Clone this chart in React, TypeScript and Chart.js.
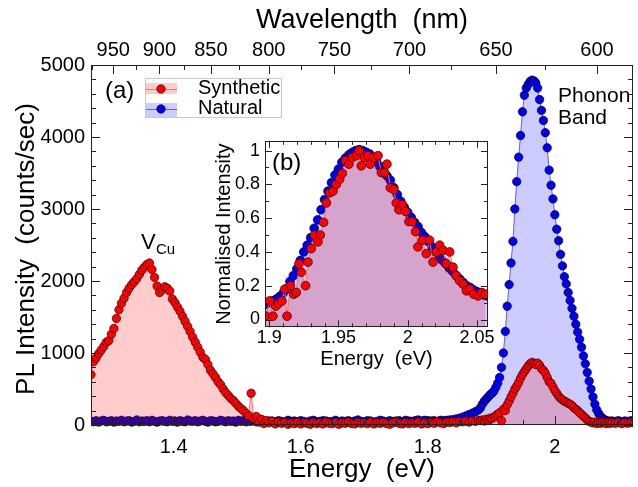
import React, { useEffect, useRef } from 'react';
import { Chart, registerables } from 'chart.js';

Chart.register(...registerables);

const FONT = '"Liberation Sans", Arial, Helvetica, sans-serif';
const HC = 1239.84; // eV*nm

// ---------------- panel (a): PL spectra ----------------
const energyEV = [
  1.270, 1.274, 1.278, 1.282, 1.286, 1.290, 1.294, 1.298, 1.302, 1.306,
  1.310, 1.314, 1.318, 1.322, 1.326, 1.330, 1.334, 1.338, 1.342, 1.346,
  1.350, 1.354, 1.358, 1.362, 1.366, 1.370, 1.374, 1.378, 1.382, 1.386,
  1.390, 1.394, 1.398, 1.402, 1.406, 1.410, 1.414, 1.418, 1.422, 1.426,
  1.430, 1.434, 1.438, 1.442, 1.446, 1.450, 1.454, 1.458, 1.462, 1.466,
  1.470, 1.474, 1.478, 1.482, 1.486, 1.490, 1.494, 1.498, 1.502, 1.506,
  1.510, 1.514, 1.518, 1.522, 1.526, 1.530, 1.534, 1.538, 1.542, 1.546,
  1.550,
  1.555, 1.560, 1.565, 1.570, 1.575, 1.580, 1.585, 1.590, 1.595, 1.600,
  1.605, 1.610, 1.615, 1.620, 1.625, 1.630, 1.635, 1.640, 1.645, 1.650,
  1.655, 1.660, 1.665, 1.670, 1.675, 1.680, 1.685, 1.690, 1.695, 1.700,
  1.705, 1.710, 1.715, 1.720, 1.725, 1.730, 1.735, 1.740, 1.745, 1.750,
  1.755, 1.760, 1.765, 1.770, 1.775, 1.780, 1.785, 1.790, 1.795, 1.800,
  1.805, 1.810, 1.815, 1.820, 1.825, 1.830, 1.835, 1.840, 1.845, 1.850,
  1.855, 1.860, 1.865, 1.870, 1.875, 1.880,
  1.883, 1.886, 1.889, 1.892, 1.895, 1.898, 1.901, 1.904, 1.907, 1.910,
  1.913, 1.916, 1.919, 1.922, 1.925, 1.928, 1.931, 1.934, 1.937, 1.940,
  1.943, 1.946, 1.949, 1.952, 1.955, 1.958, 1.961, 1.964, 1.967, 1.970,
  1.973, 1.976, 1.979, 1.982, 1.985, 1.988, 1.991, 1.994, 1.997, 2.000,
  2.003, 2.006, 2.009, 2.012, 2.015, 2.018, 2.021, 2.024, 2.027, 2.030,
  2.033, 2.036, 2.039, 2.042, 2.045, 2.048, 2.051, 2.054, 2.057, 2.060,
  2.063, 2.066, 2.069, 2.072, 2.075, 2.078, 2.081, 2.084, 2.087, 2.090,
  2.095, 2.100, 2.105, 2.110, 2.115, 2.120, 2.125,
];

const syntheticCounts = [
  700, 880, 930, 990, 1040, 1090, 1150, 1170, 1260, 1340,
  1480, 1600, 1690, 1760, 1840, 1900, 1950, 1990, 2030, 2090,
  2150, 2190, 2230, 2250, 2160, 2050, 1930, 1840, 1880, 1920,
  1900, 1860, 1750, 1700, 1640, 1580, 1510, 1440, 1370, 1300,
  1220, 1150, 1080, 1010, 940, 910, 840, 760, 710, 660,
  600, 560, 500, 450, 410, 370, 340, 300, 260, 230,
  200, 160, 130, 440, 90, 120, 40, 80, 20, 60,
  30,
  50, 15, 40, 25, 35, 10, 30, 20, 40, 15,
  30, 25, 10, 35, 20, 30, 15, 40, 25, 20,
  35, 10, 30, 25, 40, 20, 15, 35, 25, 30,
  20, 40, 15, 30, 25, 35, 20, 10, 30, 40,
  25, 15, 35, 20, 30, 25, 40, 15, 30, 20,
  35, 25, 45, 30, 20, 40, 35, 45, 30, 50,
  45, 55, 40, 60, 50, 65,
  60, 70, 55, 80, 70, 95, 90, 110, 130, 150,
  170, 60, 220, 200, 280, 330, 390, 440, 500, 540,
  590, 650, 700, 740, 780, 820, 850, 870, 860, 840,
  860, 830, 780, 760, 720, 660, 600, 580, 530, 480,
  440, 400, 370, 350, 330, 320, 300, 290, 270, 240,
  220, 200, 170, 150, 120, 100, 70, 50, 40, 30,
  40, 20, 35, 25, 40, 30, 20, 35, 25, 30,
  25, 35, 20, 30, 25, 35, 30,
];

const naturalCounts = [
  50, 45, 60, 40, 55, 65, 45, 50, 60, 40,
  55, 50, 65, 45, 55, 60, 40, 50, 70, 45,
  55, 50, 60, 45, 65, 50, 40, 55, 60, 50,
  45, 65, 50, 55, 40, 60, 50, 45, 70, 55,
  50, 60, 45, 55, 65, 50, 40, 60, 55, 45,
  50, 65, 55, 45, 60, 50, 55, 40, 65, 50,
  60, 45, 55, 50, 70, 45, 55, 60, 50, 45,
  55,
  55, 45, 60, 50, 40, 65, 50, 55, 45, 60,
  50, 40, 55, 65, 45, 50, 60, 55, 45, 50,
  65, 40, 55, 50, 60, 45, 55, 70, 50, 45,
  60, 55, 40, 50, 65, 55, 45, 60, 50, 55,
  60, 45, 65, 55, 50, 60, 70, 55, 65, 60,
  55, 60, 50, 65, 60, 65, 70, 75, 85, 95,
  110, 125, 145, 165, 185, 210,
  240, 290, 330, 360, 390, 420, 440, 470, 520, 580,
  660, 800, 1000, 1300, 1650, 1950, 2250, 2550, 3000, 3380,
  3720, 4020, 4350, 4580, 4680, 4730, 4770, 4790, 4780, 4750,
  4680, 4520, 4370, 4230, 4060, 3850, 3540, 3330, 3140, 2920,
  2720, 2560, 2370, 2210, 2060, 1960, 1840, 1730, 1620, 1510,
  1400, 1290, 1190, 1080, 960, 850, 730, 610, 500, 390,
  290, 210, 160, 120, 95, 75, 60, 55, 50, 55,
  50, 60, 45, 55, 50, 60, 50,
];

const energyTicks = [1.4, 1.6, 1.8, 2.0];
const intensityTicks = [0, 1000, 2000, 3000, 4000, 5000];
const wavelengthTicks = [950, 900, 850, 800, 750, 700, 650, 600];

// ---------------- panel (b): normalised inset ----------------
const insetNaturalE = [
  1.8975, 1.9000, 1.9025, 1.9050, 1.9075, 1.9100, 1.9125, 1.9150, 1.9175, 1.9200,
  1.9225, 1.9250, 1.9275, 1.9300, 1.9325, 1.9350, 1.9375, 1.9400, 1.9425, 1.9450,
  1.9475, 1.9500, 1.9525, 1.9550, 1.9575, 1.9600, 1.9625, 1.9650, 1.9675, 1.9700,
  1.9725, 1.9750, 1.9775, 1.9800, 1.9825, 1.9850, 1.9875, 1.9900, 1.9925, 1.9950,
  1.9975, 2.0000, 2.0025, 2.0050, 2.0075, 2.0100, 2.0125, 2.0150, 2.0175, 2.0200,
  2.0225, 2.0250, 2.0275, 2.0300, 2.0325, 2.0350, 2.0375, 2.0400, 2.0425, 2.0450,
  2.0475, 2.0500, 2.0525, 2.0550, 2.0575,
];
const insetNatural = [
  0.09, 0.10, 0.11, 0.12, 0.135, 0.155, 0.18, 0.225, 0.26, 0.30,
  0.35, 0.40, 0.44, 0.485, 0.54, 0.59, 0.65, 0.71, 0.76, 0.81,
  0.855, 0.89, 0.93, 0.955, 0.975, 0.99, 1.0, 1.005, 1.0, 0.99,
  0.98, 0.96, 0.935, 0.905, 0.88, 0.85, 0.825, 0.78, 0.74, 0.70,
  0.665, 0.635, 0.605, 0.575, 0.55, 0.515, 0.49, 0.46, 0.43, 0.40,
  0.375, 0.35, 0.33, 0.305, 0.285, 0.26, 0.24, 0.22, 0.20, 0.19,
  0.175, 0.165, 0.155, 0.145, 0.14,
];
const insetSyntheticE = [
  1.8975, 1.9003, 1.9027, 1.9047, 1.9068, 1.9092, 1.9112, 1.9129, 1.9153, 1.9177,
  1.9196, 1.9215, 1.9232, 1.9263, 1.9280, 1.9304, 1.9328, 1.9352, 1.9369, 1.9393,
  1.9413, 1.9437, 1.9461, 1.9485, 1.9509, 1.9528, 1.9552, 1.9576, 1.9600, 1.9629,
  1.9649, 1.9665, 1.9689, 1.9713, 1.9730, 1.9754, 1.9786, 1.9810, 1.9834, 1.9850,
  1.9875, 1.9899, 1.9918, 1.9937, 1.9961, 1.9985, 2.0009, 2.0033, 2.0057, 2.0074,
  2.0105, 2.0134, 2.0158, 2.0183, 2.0207, 2.0231, 2.0255, 2.0279, 2.0303, 2.0327,
  2.0351, 2.0375, 2.0400, 2.0424, 2.0448, 2.0477, 2.0508, 2.0535, 2.0560,
];
const insetSynthetic = [
  0.02, 0.11, 0.02, 0.08, 0.095, 0.11, 0.18, 0.02, 0.20, 0.15,
  0.16, 0.33, 0.28, 0.20, 0.34, 0.42, 0.50, 0.46, 0.50, 0.575,
  0.69, 0.75, 0.76, 0.80, 0.83, 0.865, 0.94, 0.92, 0.96, 0.97,
  1.0, 0.91, 0.96, 0.97, 0.92, 0.96, 0.97, 0.87, 0.87, 0.92,
  0.78, 0.77, 0.69, 0.65, 0.68, 0.64, 0.58, 0.58, 0.52, 0.43,
  0.47, 0.39, 0.47, 0.34, 0.40, 0.44, 0.41, 0.33, 0.40, 0.31,
  0.26, 0.23, 0.21, 0.17, 0.18, 0.15, 0.14, 0.16, 0.15,
];
const insetEnergyTicks = [1.9, 1.95, 2.0, 2.05];
const insetIntensityTicks = [0, 0.2, 0.4, 0.6, 0.8, 1];

// ---------------- styling ----------------
const RED_FILL = 'rgba(255,0,0,0.2)';
const BLUE_FILL = 'rgba(0,0,255,0.2)';
const RED_LINE = 'rgb(255,110,110)';
const BLUE_LINE = 'rgb(95,95,235)';
const RED_PT = '#ff0000';
const BLUE_PT = '#0000f0';
const RED_EDGE = 'rgba(60,0,0,0.9)';
const BLUE_EDGE = 'rgba(0,0,50,0.9)';
const AXIS = '#222';

const fmt = (v: any) => String(parseFloat(Number(v).toFixed(2)));
const crisp = (v: number) => Math.round(v) + 0.5;

const mainDecor = {
  id: 'mainDecor',
  afterDraw(chart: any) {
    const { ctx, chartArea: a, scales } = chart;
    const x = scales.x;
    const x2 = scales.x2;
    const y = scales.y;
    ctx.save();
    ctx.strokeStyle = AXIS;
    ctx.lineWidth = 1;
    ctx.beginPath();
    // bottom energy ticks (major 0.2, minor 0.05)
    for (let k = 26; k <= 42; k++) {
      const v = k * 0.05;
      if (v < x.min || v > x.max) continue;
      const px = crisp(x.getPixelForValue(v));
      const len = k % 4 === 0 ? 9 : 5;
      ctx.moveTo(px, a.bottom);
      ctx.lineTo(px, a.bottom - len);
    }
    // top wavelength ticks (major 50 nm, minor 25 nm)
    for (let l = 975; l >= 575; l -= 25) {
      const v = HC / l;
      if (v < x2.min || v > x2.max) continue;
      const px = crisp(x2.getPixelForValue(v));
      const len = l % 50 === 0 ? 9 : 5;
      ctx.moveTo(px, a.top);
      ctx.lineTo(px, a.top + len);
    }
    // left & right intensity ticks (major 1000, minor 200)
    for (let v = 0; v <= 5000; v += 200) {
      const py = crisp(y.getPixelForValue(v));
      const len = v % 1000 === 0 ? 9 : 5;
      ctx.moveTo(a.left, py);
      ctx.lineTo(a.left + len, py);
      ctx.moveTo(a.right, py);
      ctx.lineTo(a.right - len, py);
    }
    ctx.stroke();
    // frame
    const l = Math.round(a.left) + 0.5;
    const t = Math.round(a.top) + 0.5;
    const r = Math.round(a.right) - 0.5;
    const b = Math.round(a.bottom) - 0.5;
    ctx.strokeRect(l, t, r - l, b - t);

    // axis titles
    ctx.fillStyle = '#000';
    ctx.textAlign = 'center';
    ctx.textBaseline = 'alphabetic';
    ctx.font = `27px ${FONT}`;
    const cx = (a.left + a.right) / 2;
    ctx.fillText('Wavelength  (nm)', cx, 28);
    ctx.font = `26px ${FONT}`;
    ctx.fillText('Energy  (eV)', cx, 477);
    ctx.save();
    ctx.translate(34, 249);
    ctx.rotate(-Math.PI / 2);
    ctx.fillText('PL Intensity  (counts/sec)', 0, 0);
    ctx.restore();

    // panel label
    ctx.textAlign = 'left';
    ctx.font = `24px ${FONT}`;
    ctx.fillText('(a)', 105, 98);

    // legend
    ctx.fillStyle = '#fff';
    ctx.fillRect(145, 78, 137, 40);
    ctx.strokeStyle = '#c8c8c8';
    ctx.strokeRect(145.5, 78.5, 136, 39);
    const rows = [
      { label: 'Synthetic', fill: RED_FILL, line: RED_LINE, pt: RED_PT, edge: RED_EDGE, y: 89 },
      { label: 'Natural', fill: BLUE_FILL, line: BLUE_LINE, pt: BLUE_PT, edge: BLUE_EDGE, y: 109 },
    ];
    rows.forEach((row) => {
      ctx.fillStyle = row.fill;
      ctx.fillRect(146, row.y - 6, 31, row.y === 89 ? 11 : 14);
      ctx.strokeStyle = row.line;
      ctx.beginPath();
      ctx.moveTo(146, row.y + 0.5);
      ctx.lineTo(177, row.y + 0.5);
      ctx.stroke();
      ctx.beginPath();
      ctx.arc(161, row.y, 4.2, 0, Math.PI * 2);
      ctx.fillStyle = row.pt;
      ctx.fill();
      ctx.strokeStyle = row.edge;
      ctx.lineWidth = 0.8;
      ctx.stroke();
      ctx.lineWidth = 1;
      ctx.fillStyle = '#000';
      ctx.font = `20px ${FONT}`;
      ctx.fillText(row.label, 198, row.y + 4.5);
    });

    // annotations
    ctx.fillStyle = '#000';
    ctx.font = `22px ${FONT}`;
    ctx.fillText('V', 141, 249);
    ctx.font = `15px ${FONT}`;
    ctx.fillText('Cu', 156, 254);
    ctx.font = `21px ${FONT}`;
    ctx.fillText('Phonon', 558, 102);
    ctx.fillText('Band', 558, 124);
    ctx.restore();
  },
};

const insetDecor = {
  id: 'insetDecor',
  beforeDraw(chart: any) {
    const { ctx, chartArea: a } = chart;
    ctx.save();
    ctx.fillStyle = '#fff';
    ctx.fillRect(a.left, a.top, a.right - a.left, a.bottom - a.top);
    ctx.restore();
  },
  afterDraw(chart: any) {
    const { ctx, chartArea: a, scales } = chart;
    const x = scales.x;
    const y = scales.y;
    ctx.save();
    ctx.strokeStyle = AXIS;
    ctx.lineWidth = 1;
    ctx.beginPath();
    for (let k = 190; k <= 205; k++) {
      const v = k * 0.01;
      if (v < x.min || v > x.max) continue;
      const px = crisp(x.getPixelForValue(v));
      const len = k % 5 === 0 ? 7 : 4;
      ctx.moveTo(px, a.bottom);
      ctx.lineTo(px, a.bottom - len);
      ctx.moveTo(px, a.top);
      ctx.lineTo(px, a.top + len);
    }
    for (let k = 0; k <= 10; k++) {
      const v = k * 0.1;
      const py = crisp(y.getPixelForValue(v));
      const len = k % 2 === 0 ? 7 : 4;
      ctx.moveTo(a.left, py);
      ctx.lineTo(a.left + len, py);
      ctx.moveTo(a.right, py);
      ctx.lineTo(a.right - len, py);
    }
    ctx.stroke();
    const l = Math.round(a.left) + 0.5;
    const t = Math.round(a.top) + 0.5;
    const r = Math.round(a.right) - 0.5;
    const b = Math.round(a.bottom) - 0.5;
    ctx.strokeRect(l, t, r - l, b - t);

    ctx.fillStyle = '#000';
    ctx.textAlign = 'left';
    ctx.textBaseline = 'alphabetic';
    ctx.font = `24px ${FONT}`;
    ctx.fillText('(b)', 77, 45);
    ctx.textAlign = 'center';
    ctx.font = `20px ${FONT}`;
    ctx.fillText('Energy  (eV)', (a.left + a.right) / 2, 240);
    ctx.save();
    ctx.translate(35, (a.top + a.bottom) / 2);
    ctx.rotate(-Math.PI / 2);
    ctx.fillText('Normalised Intensity', 0, 0);
    ctx.restore();
    ctx.restore();
  },
};

function series(label: string, xs: number[], ys: number[], red: boolean, fill: string, radius: number, clip: any) {
  return {
    label,
    data: xs.map((e, i) => ({ x: e, y: ys[i] })),
    order: red ? 0 : 1,
    borderColor: red ? RED_LINE : BLUE_LINE,
    borderWidth: 1,
    backgroundColor: red ? RED_FILL : BLUE_FILL,
    fill,
    tension: 0,
    clip,
    pointRadius: radius,
    pointBackgroundColor: red ? RED_PT : BLUE_PT,
    pointBorderColor: red ? RED_EDGE : BLUE_EDGE,
    pointBorderWidth: 0.8,
  };
}

export default function App() {
  const mainRef = useRef<HTMLCanvasElement>(null);
  const insetRef = useRef<HTMLCanvasElement>(null);

  useEffect(() => {
    document.body.style.margin = '0';
    Chart.defaults.font.family = FONT;
    const tickFont = { family: FONT, size: 20 };
    const mainClip = { left: 0, top: 0, right: 0, bottom: 8 };

    const main = new Chart(mainRef.current as HTMLCanvasElement, {
      type: 'line',
      data: {
        datasets: [
          series('Synthetic', energyEV, syntheticCounts, true, 'origin', 4.2, mainClip),
          series('Natural', energyEV, naturalCounts, false, 'origin', 4.2, mainClip),
        ],
      },
      options: {
        animation: false,
        responsive: false,
        devicePixelRatio: 1,
        events: [],
        layout: { padding: { left: 0, right: 1, top: 0, bottom: 0 } },
        plugins: { legend: { display: false }, tooltip: { enabled: false } },
        scales: {
          x: {
            type: 'linear',
            position: 'bottom',
            min: 1.27,
            max: 2.123,
            afterBuildTicks: (s: any) => { s.ticks = energyTicks.map((v) => ({ value: v })); },
            afterFit: (s: any) => { s.height = 62; },
            grid: { display: false, drawTicks: false },
            border: { display: false },
            ticks: { padding: 10, font: tickFont, color: '#000', maxRotation: 0, autoSkip: false, callback: fmt },
          },
          x2: {
            type: 'linear',
            position: 'top',
            min: 1.27,
            max: 2.123,
            afterBuildTicks: (s: any) => { s.ticks = wavelengthTicks.map((l) => ({ value: HC / l })); },
            afterFit: (s: any) => { s.height = 65; },
            grid: { display: false, drawTicks: false },
            border: { display: false },
            ticks: {
              padding: 3,
              font: tickFont,
              color: '#000',
              maxRotation: 0,
              autoSkip: false,
              callback: (v: any) => String(Math.round(HC / Number(v))),
            },
          },
          y: {
            type: 'linear',
            position: 'left',
            min: 0,
            max: 5000,
            afterBuildTicks: (s: any) => { s.ticks = intensityTicks.map((v) => ({ value: v })); },
            afterFit: (s: any) => { s.width = 91; },
            grid: { display: false, drawTicks: false },
            border: { display: false },
            ticks: { padding: 6, font: tickFont, color: '#000', autoSkip: false, callback: fmt },
          },
        },
      } as any,
      plugins: [mainDecor],
    });

    const insetFont = { family: FONT, size: 18 };
    const inset = new Chart(insetRef.current as HTMLCanvasElement, {
      type: 'line',
      data: {
        datasets: [
          series('Synthetic', insetSyntheticE, insetSynthetic, true, 'start', 4.4, 0),
          series('Natural', insetNaturalE, insetNatural, false, 'start', 4.4, 0),
        ],
      },
      options: {
        animation: false,
        responsive: false,
        devicePixelRatio: 1,
        events: [],
        layout: { padding: { left: 0, right: 19, top: 11.7, bottom: 0 } },
        plugins: { legend: { display: false }, tooltip: { enabled: false } },
        scales: {
          x: {
            type: 'linear',
            position: 'bottom',
            min: 1.897,
            max: 2.058,
            afterBuildTicks: (s: any) => { s.ticks = insetEnergyTicks.map((v) => ({ value: v })); },
            afterFit: (s: any) => { s.height = 47.7; },
            grid: { display: false, drawTicks: false },
            border: { display: false },
            ticks: { padding: 0, font: insetFont, color: '#000', maxRotation: 0, autoSkip: false, callback: fmt },
          },
          y: {
            type: 'linear',
            position: 'left',
            min: -0.046,
            max: 1.058,
            afterBuildTicks: (s: any) => { s.ticks = insetIntensityTicks.map((v) => ({ value: v })); },
            afterFit: (s: any) => { s.width = 70; },
            grid: { display: false, drawTicks: false },
            border: { display: false },
            ticks: { padding: 5, font: insetFont, color: '#000', autoSkip: false, callback: fmt },
          },
        },
      } as any,
      plugins: [insetDecor],
    });

    return () => {
      main.destroy();
      inset.destroy();
    };
  }, []);

  return (
    <div style={{ position: 'relative', width: 638, height: 487, background: '#fff', overflow: 'hidden' }}>
      <canvas
        ref={mainRef}
        width={638}
        height={487}
        style={{ position: 'absolute', left: 0, top: 0, width: 638, height: 487 }}
      />
      <canvas
        ref={insetRef}
        width={312}
        height={250}
        style={{ position: 'absolute', left: 195, top: 125, width: 312, height: 250 }}
      />
    </div>
  );
}
